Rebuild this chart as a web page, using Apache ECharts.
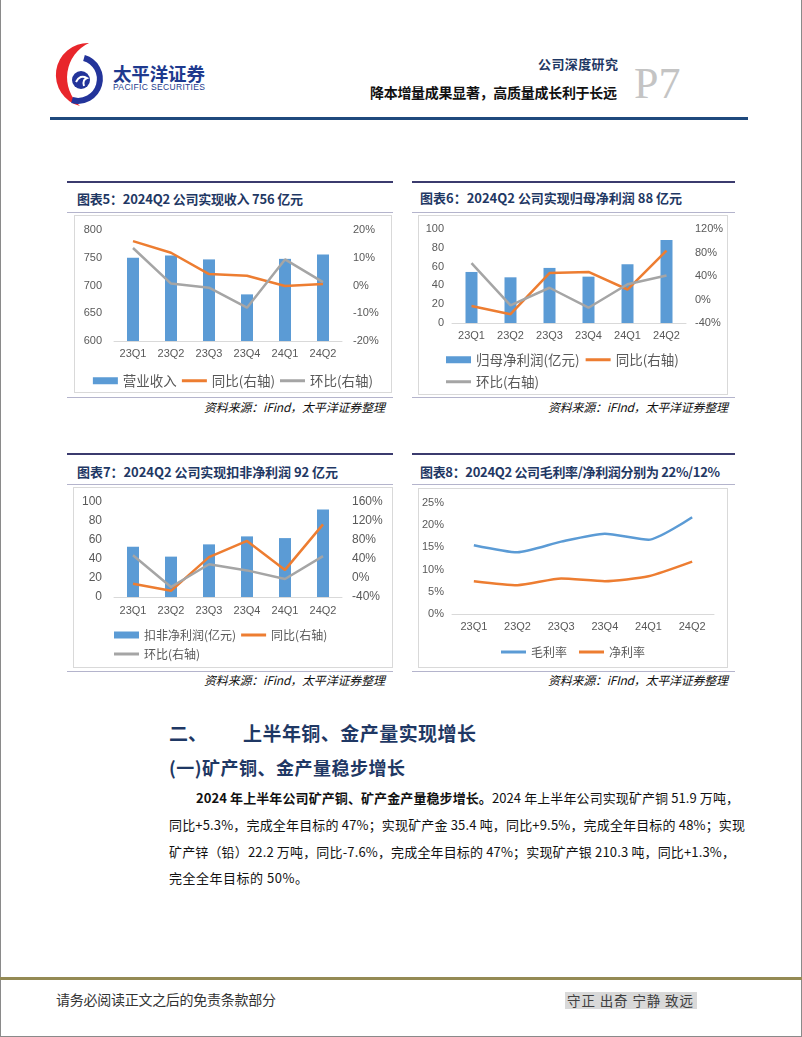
<!DOCTYPE html>
<html><head><meta charset="utf-8">
<script src="https://cdn.jsdelivr.net/npm/echarts@6/dist/echarts.min.js"></script>
<style>
html,body{margin:0;padding:0;background:#fff;}
#page{position:relative;width:802px;height:1037px;overflow:hidden;background:#fff;font-family:"Noto Sans CJK SC",sans-serif;}
.t{position:absolute;white-space:nowrap;display:inline-block;}
.box{position:absolute;border:1px solid #D9D9D9;box-sizing:border-box;}
.box > div{position:absolute;left:0;top:0;right:0;bottom:0;}
.ttl{font-size:13px;font-weight:bold;color:#1F3864;line-height:16px;}
.src{font-size:12px;font-style:italic;color:#111;line-height:14px;}
.para{font-size:13px;color:#111;line-height:16px;}
</style></head>
<body><div id="page">
<!-- page frame -->
<div style="position:absolute;left:0;top:0;width:1px;height:1037px;background:#8a8a8a"></div>
<div style="position:absolute;left:801px;top:0;width:1px;height:1037px;background:#8a8a8a"></div>
<div style="position:absolute;left:0;top:1036px;width:802px;height:1px;background:#8a8a8a"></div>

<!-- logo -->
<svg style="position:absolute;left:0;top:0" width="120" height="120">
  <path d="M 89 43 A 32 32 0 0 0 80 106 A 38 38 0 0 1 89 43 Z" fill="#E8262B"/>
  <path d="M 84 58 A 21 21 0 1 1 72 100" fill="none" stroke="#23349A" stroke-width="6"/>
  <circle cx="81" cy="80" r="9" fill="#23349A"/>
  <path d="M 76 82 Q 80 74 87 78 Q 82 80 84 86" fill="none" stroke="#fff" stroke-width="2"/>
</svg>
<div class="t" data-w="92" style="left:113px;top:63px;font-size:18.5px;line-height:20px;font-weight:bold;color:#1E3A8E">太平洋证券</div>
<div class="t" data-w="92" style="left:113px;top:82px;font-size:8.5px;line-height:10px;color:#1E3A8E;font-family:'Liberation Sans',sans-serif">PACIFIC SECURITIES</div>
<div class="t" data-w="80" style="left:538px;top:56px;font-size:13px;line-height:16px;color:#1F3864;font-weight:bold">公司深度研究</div>
<div class="t" data-w="247" style="left:370px;top:84px;font-size:14px;line-height:17px;color:#111;font-weight:bold">降本增量成果显著，高质量成长利于长远</div>
<div class="t" style="left:634px;top:62px;font-size:44px;line-height:44px;color:#C4C4C4;font-family:'Liberation Serif',serif">P7</div>
<div style="position:absolute;left:50px;top:117px;width:698px;height:3px;background:#1F497D"></div>

<!-- chart 5 frame -->
<div style="position:absolute;left:67px;top:181px;width:326px;height:2px;background:#3B3B6E"></div>
<div class="t ttl" data-w="226" style="left:77px;top:191px">图表5：2024Q2 公司实现收入 756 亿元</div>
<div style="position:absolute;left:67px;top:212px;width:326px;height:1px;background:#B4B4CC"></div>
<div class="box" style="left:74px;top:215px;width:318px;height:178px"><div id="c5"></div></div>
<div style="position:absolute;left:67px;top:397px;width:326px;height:1px;background:#B4B4CC"></div>
<div class="t src" data-w="181" style="left:204px;top:400px">资料来源：iFind，太平洋证券整理</div>

<!-- chart 6 frame -->
<div style="position:absolute;left:412px;top:181px;width:323px;height:2px;background:#3B3B6E"></div>
<div class="t ttl" data-w="262" style="left:420px;top:190px">图表6：2024Q2 公司实现归母净利润 88 亿元</div>
<div style="position:absolute;left:412px;top:212px;width:323px;height:1px;background:#B4B4CC"></div>
<div class="box" style="left:418px;top:215px;width:310px;height:180px"><div id="c6"></div></div>
<div style="position:absolute;left:412px;top:397px;width:323px;height:1px;background:#B4B4CC"></div>
<div class="t src" data-w="180" style="left:548px;top:400px">资料来源：iFInd，太平洋证券整理</div>

<!-- chart 7 frame -->
<div style="position:absolute;left:67px;top:453px;width:326px;height:2px;background:#3B3B6E"></div>
<div class="t ttl" data-w="261" style="left:77px;top:464px">图表7：2024Q2 公司实现扣非净利润 92 亿元</div>
<div style="position:absolute;left:67px;top:484px;width:326px;height:1px;background:#B4B4CC"></div>
<div class="box" style="left:73px;top:487px;width:320px;height:181px"><div id="c7"></div></div>
<div style="position:absolute;left:67px;top:671px;width:326px;height:1px;background:#B4B4CC"></div>
<div class="t src" data-w="181" style="left:204px;top:673px">资料来源：iFind，太平洋证券整理</div>

<!-- chart 8 frame -->
<div style="position:absolute;left:412px;top:453px;width:323px;height:2px;background:#3B3B6E"></div>
<div class="t ttl" data-w="300" style="left:420px;top:464px">图表8：2024Q2 公司毛利率/净利润分别为 22%/12%</div>
<div style="position:absolute;left:412px;top:484px;width:323px;height:1px;background:#B4B4CC"></div>
<div class="box" style="left:418px;top:488px;width:310px;height:180px"><div id="c8"></div></div>
<div style="position:absolute;left:412px;top:671px;width:323px;height:1px;background:#B4B4CC"></div>
<div class="t src" data-w="180" style="left:548px;top:673px">资料来源：iFInd，太平洋证券整理</div>

<!-- section text -->
<div class="t" style="left:169px;top:722px;font-size:19px;line-height:22px;font-weight:bold;color:#1F3864">二、</div>
<div class="t" data-w="233" style="left:243px;top:722px;font-size:19px;line-height:22px;font-weight:bold;color:#1F3864">上半年铜、金产量实现增长</div>
<div class="t" data-w="236" style="left:169px;top:756px;font-size:18px;line-height:22px;font-weight:bold;color:#1F3864">(一)矿产铜、金产量稳步增长</div>
<div class="t para" data-w="543" style="left:196px;top:790px"><b>2024 年上半年公司矿产铜、矿产金产量稳步增长。</b>2024 年上半年公司实现矿产铜 51.9 万吨，</div>
<div class="t para" data-w="576" style="left:169px;top:817px">同比+5.3%，完成全年目标的 47%；实现矿产金 35.4 吨，同比+9.5%，完成全年目标的 48%；实现</div>
<div class="t para" data-w="566" style="left:169px;top:844px">矿产锌（铅）22.2 万吨，同比-7.6%，完成全年目标的 47%；实现矿产银 210.3 吨，同比+1.3%，</div>
<div class="t para" data-w="139" style="left:169px;top:870px">完全全年目标的 50%。</div>

<!-- footer -->
<div style="position:absolute;left:0;top:977px;width:802px;height:3px;background:#948A54"></div>
<div class="t" data-w="220" style="left:56px;top:991px;font-size:14px;line-height:17px;color:#333">请务必阅读正文之后的免责条款部分</div>
<div style="position:absolute;left:565px;top:992px;width:132px;height:17px;background:#D9D9D9"></div>
<div class="t" data-w="126" style="left:567px;top:992px;font-size:13.5px;line-height:17px;color:#404040">守正 出奇 宁静 致远</div>
</div>
<script>
const quarters = ['23Q1','23Q2','23Q3','23Q4','24Q1','24Q2'];
const revenue = [750, 754, 747, 684, 748, 756];
const revenueYoy = [0.160, 0.118, 0.041, 0.035, -0.002, 0.005];
const revenueQoq = [0.135, 0.007, -0.008, -0.080, 0.094, 0.012];
const netProfit = [54.3, 48.6, 58.6, 49.3, 62.5, 88.2];
const netProfitYoy = [-0.11, -0.25, 0.45, 0.47, 0.17, 0.83];
const netProfitQoq = [0.62, -0.10, 0.20, -0.14, 0.26, 0.41];
const deductedProfit = [52.9, 42.5, 55.4, 63.8, 62.0, 92.0];
const deductedYoy = [-0.12, -0.27, 0.44, 0.78, 0.17, 1.13];
const deductedQoq = [0.48, -0.19, 0.29, 0.16, -0.02, 0.46];
const grossMargin = [0.155, 0.139, 0.163, 0.181, 0.167, 0.218];
const netMargin = [0.074, 0.065, 0.080, 0.074, 0.085, 0.118];

const BLUE = '#5B9BD5', ORANGE = '#ED7D31', GRAY = '#A5A5A5';
const NUMFONT = "'Liberation Sans','Noto Sans CJK SC',sans-serif";
const CJK = "'Noto Sans CJK SC',sans-serif";
const LINE_ICON = 'path://M0,0 L25,0 L25,3 L0,3 Z';
const pct = v => Math.round(v * 100) + '%';

function lbl(size, margin, fmt) {
  const o = { color: '#595959', fontSize: size, fontFamily: NUMFONT, margin: margin };
  if (fmt) o.formatter = fmt;
  return o;
}
function xAxis(margin) {
  return { type: 'category', data: quarters, axisTick: { show: false },
    axisLine: { onZero: false, lineStyle: { color: '#D9D9D9', width: 1 } },
    axisLabel: lbl(11, margin) };
}
function yAxis(min, max, interval, margin, fmt, size) {
  return { type: 'value', min: min, max: max, interval: interval,
    splitLine: { show: false }, axisLine: { show: false }, axisTick: { show: false },
    axisLabel: lbl(size || 11, margin, fmt) };
}
function bar(name, data) {
  return { type: 'bar', name: name, data: data, barWidth: 12, itemStyle: { color: BLUE } };
}
function line(name, data, color, axis, smooth) {
  return { type: 'line', name: name, data: data, yAxisIndex: axis, symbol: 'none',
    smooth: smooth || false, lineStyle: { width: 2.5, color: color }, itemStyle: { color: color } };
}
function barItem(name) { return { name: name, icon: 'rect' }; }
function lineItem(name) { return { name: name, icon: LINE_ICON }; }
function legend(items, opts, fs) {
  return Object.assign({ data: items, itemWidth: 25, itemHeight: 7, itemGap: 5, symbolKeepAspect: true,
    textStyle: { fontSize: fs, color: '#595959', fontFamily: CJK } }, opts);
}

const charts = [];
function make(id, option) {
  const c = echarts.init(document.getElementById(id), null, { renderer: 'canvas' });
  option.animation = false;
  c.setOption(option);
  charts.push(c);
}

make('c5', {
  grid: { left: 39, right: 49, top: 14, bottom: 51 },
  legend: legend([barItem('营业收入'), lineItem('同比(右轴)'), lineItem('环比(右轴)')], { left: 'center', top: 153 }, 13.5),
  xAxis: xAxis(7),
  yAxis: [yAxis(600, 800, 50, 12), yAxis(-0.2, 0.2, 0.1, 11, pct)],
  series: [bar('营业收入', revenue), line('同比(右轴)', revenueYoy, ORANGE, 1), line('环比(右轴)', revenueQoq, GRAY, 1)]
});

make('c6', {
  grid: { left: 33, right: 41, top: 13, bottom: 71 },
  legend: [
    legend([barItem('归母净利润(亿元)'), lineItem('同比(右轴)')], { left: 22, top: 132, itemGap: 6 }, 13.5),
    legend([lineItem('环比(右轴)')], { left: 22, top: 154 }, 13.5)
  ],
  xAxis: xAxis(7),
  yAxis: [yAxis(0, 100, 20, 8), yAxis(-0.4, 1.2, 0.4, 9, pct)],
  series: [bar('归母净利润(亿元)', netProfit), line('同比(右轴)', netProfitYoy, ORANGE, 1), line('环比(右轴)', netProfitQoq, GRAY, 1)]
});

make('c7', {
  grid: { left: 40, right: 50, top: 14, bottom: 70 },
  legend: [
    legend([barItem('扣非净利润(亿元)'), lineItem('同比(右轴)')], { left: 35, top: 136 }, 12),
    legend([lineItem('环比(右轴)')], { left: 35, top: 155 }, 12)
  ],
  xAxis: xAxis(8),
  yAxis: [yAxis(0, 100, 20, 12, null, 12), yAxis(-0.4, 1.6, 0.4, 10, pct, 12)],
  series: [bar('扣非净利润(亿元)', deductedProfit), line('同比(右轴)', deductedYoy, ORANGE, 1), line('环比(右轴)', deductedQoq, GRAY, 1)]
});

make('c8', {
  grid: { left: 32, right: 13, top: 14, bottom: 53 },
  legend: legend([lineItem('毛利率'), lineItem('净利率')], { left: 'center', top: 152, itemGap: 12 }, 12),
  xAxis: xAxis(7),
  yAxis: [yAxis(0, 0.25, 0.05, 8, pct)],
  series: [line('毛利率', grossMargin, BLUE, 0, 0.2), line('净利率', netMargin, ORANGE, 0, 0.2)]
});

function fit() {
  document.querySelectorAll('[data-w]').forEach(el => {
    el.style.letterSpacing = '0px';
    const target = +el.dataset.w;
    const nat = el.getBoundingClientRect().width;
    const n = Array.from(el.textContent).length;
    if (n > 1) el.style.letterSpacing = ((target - nat) / (n - 1)) + 'px';
  });
}
fit();
if (document.fonts && document.fonts.ready) document.fonts.ready.then(fit);
</script>
</body></html>
